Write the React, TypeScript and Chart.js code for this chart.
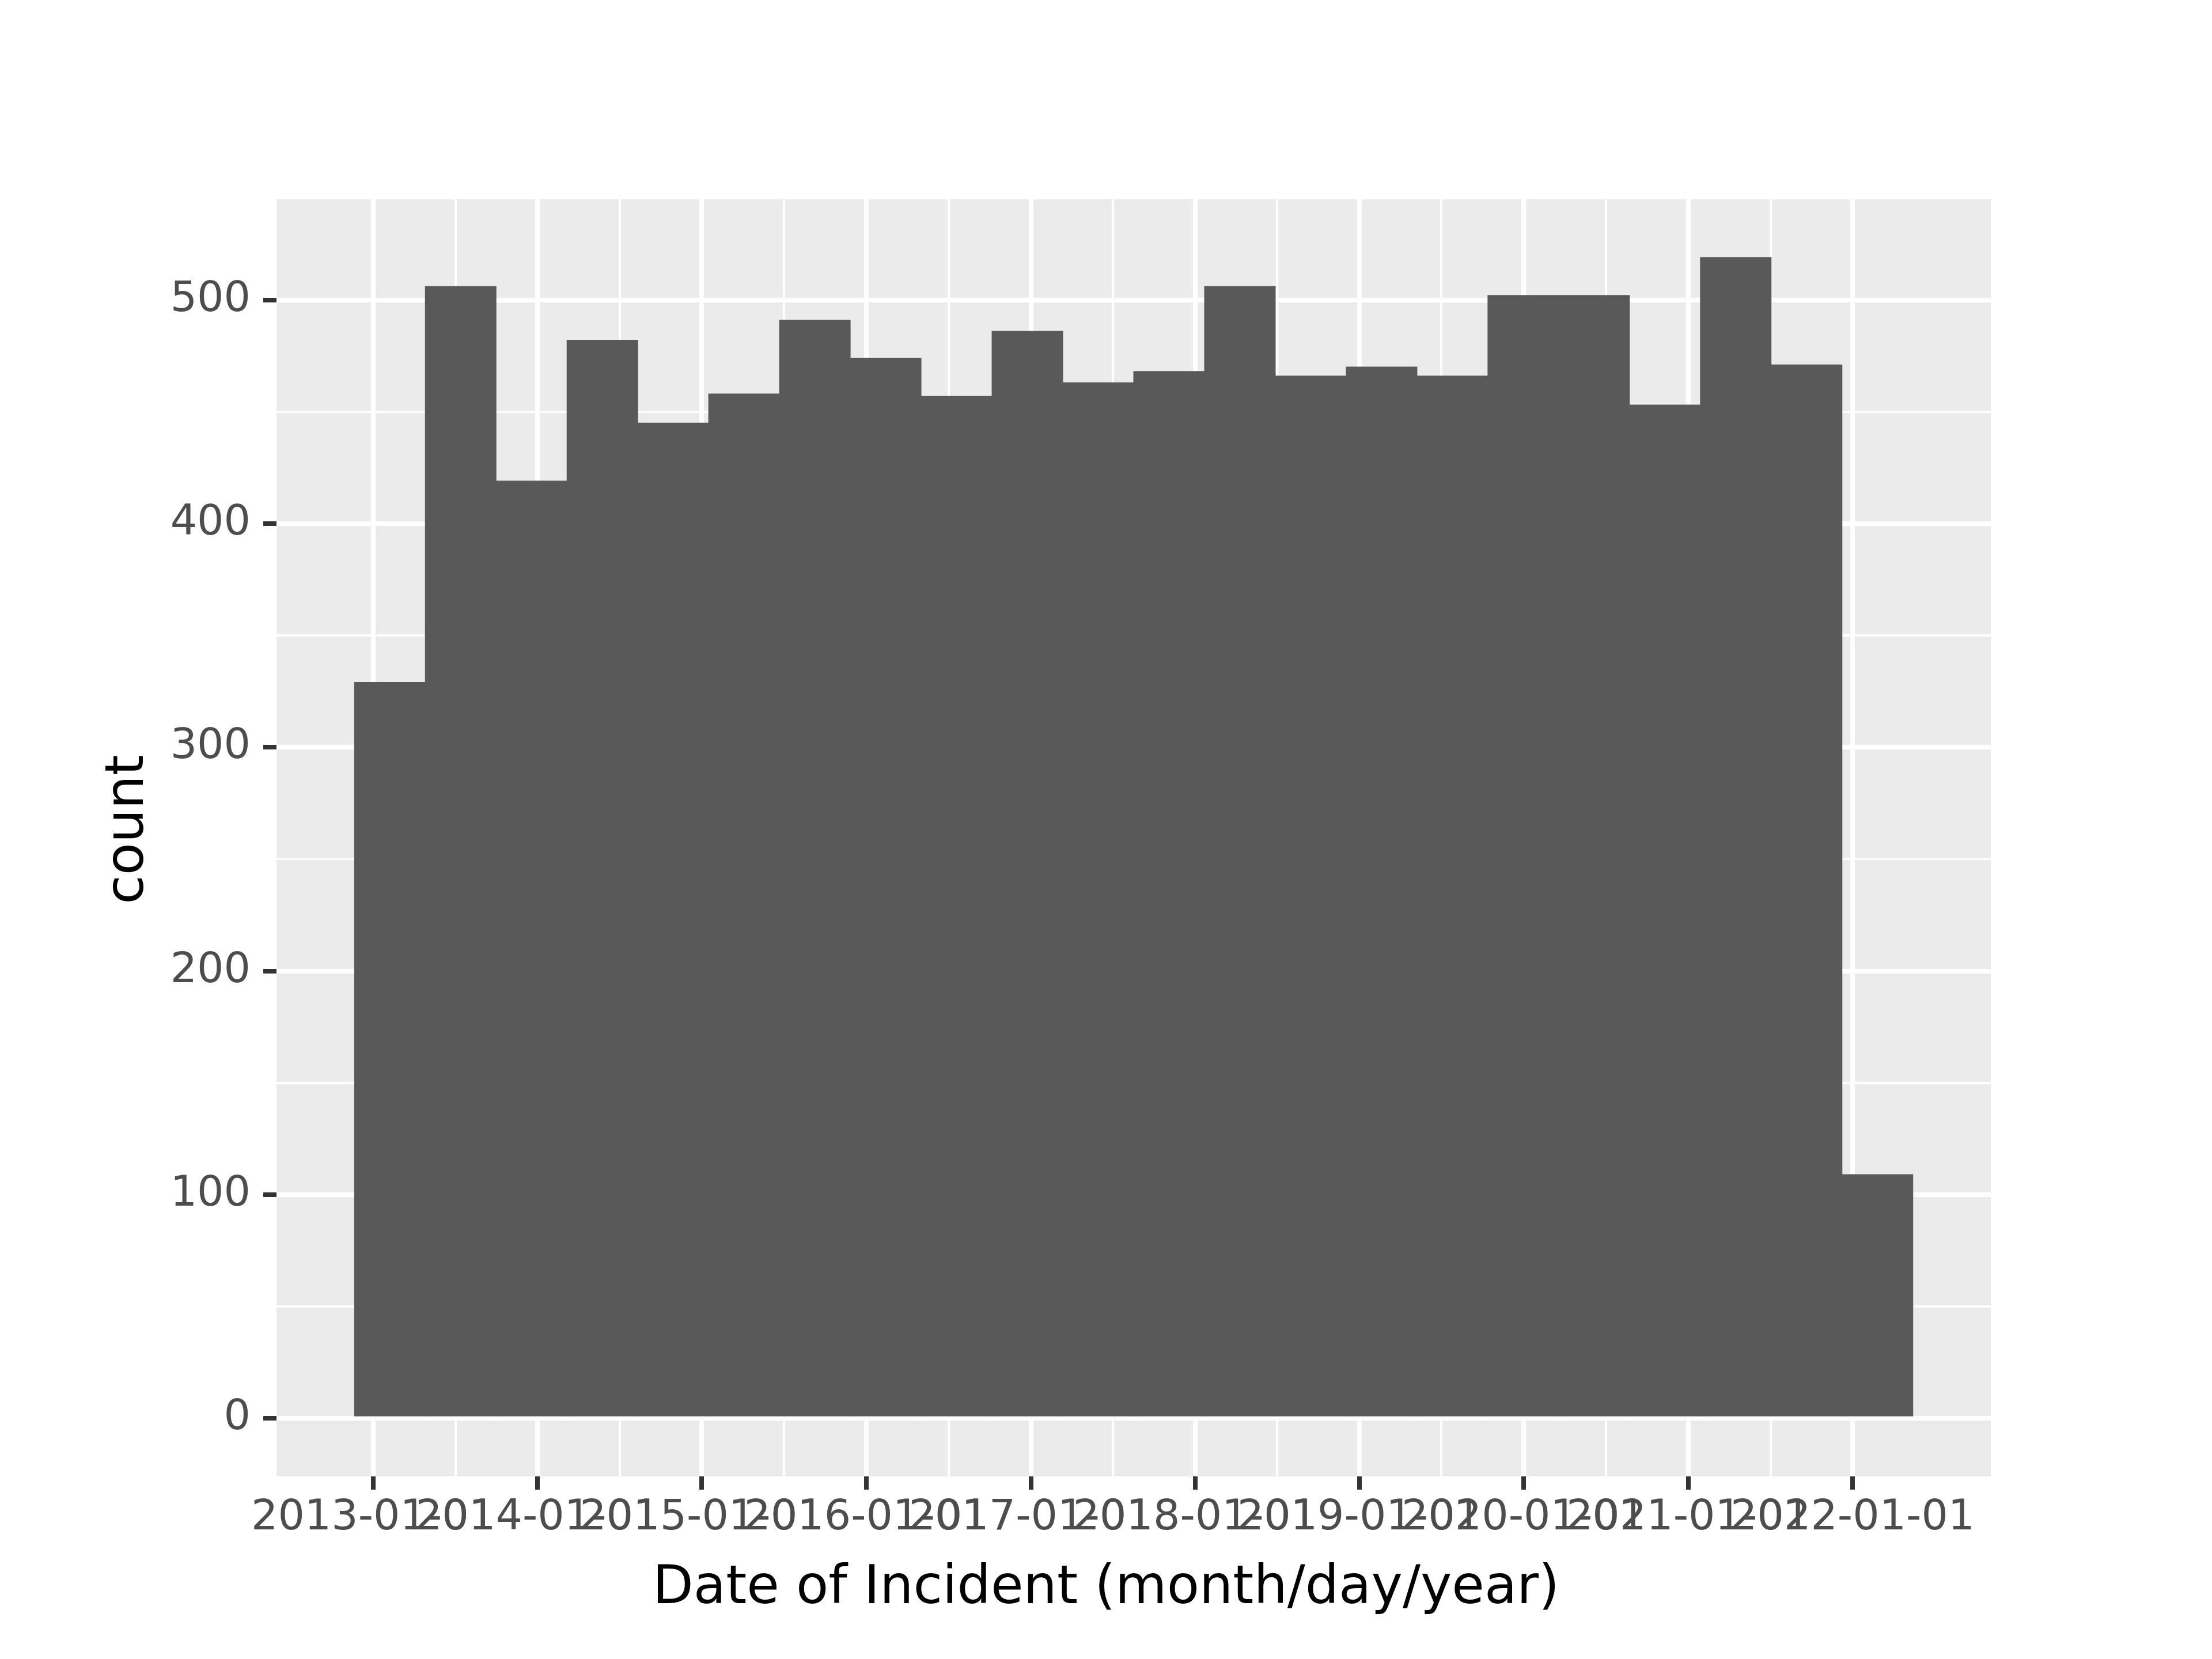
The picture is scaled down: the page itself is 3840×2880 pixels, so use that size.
import React, { useEffect, useRef } from "react";
import { Chart, registerables } from "chart.js";

Chart.register(...registerables);

// ---- data ----
const binStartDate = "2012-11-20"; // left edge of first bin
const binWidthDays = 157.4;
const counts = [329, 506, 419, 482, 445, 458, 491, 474, 457, 486, 463, 468, 506, 466, 470, 466, 502, 502, 453, 519, 471, 109];
const xTickLabels = [
  "2013-01-01", "2014-01-01", "2015-01-01", "2016-01-01", "2017-01-01",
  "2018-01-01", "2019-01-01", "2020-01-01", "2021-01-01", "2022-01-01",
];
const yTicks = [0, 100, 200, 300, 400, 500];
const yMinorTicks = [50, 150, 250, 350, 450];
const xTitle = "Date of Incident (month/day/year)";
const yTitle = "count";

const FONT = "'DejaVu Sans', 'Liberation Sans', sans-serif";
const DAY = 86400000;
const ORIGIN = Date.UTC(2013, 0, 1);
const toDay = (s: string) => (Date.parse(s + "T00:00:00Z") - ORIGIN) / DAY;

export default function App() {
  const ref = useRef<HTMLCanvasElement | null>(null);

  useEffect(() => {
    document.body.style.margin = "0";
    const canvas = ref.current;
    if (!canvas) return;

    const start = toDay(binStartDate);
    const points = counts.map((c, i) => ({ x: start + (i + 0.5) * binWidthDays, y: c }));
    const firstEdge = start;
    const lastEdge = start + counts.length * binWidthDays;
    const xSpan = lastEdge - firstEdge;
    const xMin = firstEdge - 0.05 * xSpan;
    const xMax = lastEdge + 0.05 * xSpan;
    const yMaxVal = Math.max(...counts);
    const yMin = -0.05 * yMaxVal;
    const yMax = yMaxVal * 1.05;

    const majorX = xTickLabels.map(toDay);
    const xLabelMap = new Map<number, string>();
    majorX.forEach((v, i) => xLabelMap.set(v, xTickLabels[i]));
    const minorX: number[] = [];
    for (let i = 0; i < majorX.length - 1; i++) minorX.push((majorX[i] + majorX[i + 1]) / 2);
    const allX = [...majorX, ...minorX].sort((a, b) => a - b);
    const majorXSet = new Set(majorX);

    const majorYSet = new Set(yTicks);
    const allY = [...yTicks, ...yMinorTicks].sort((a, b) => a - b);

    const bgPlugin = {
      id: "panelBg",
      beforeDraw(chart: any) {
        const { ctx, chartArea } = chart;
        ctx.save();
        ctx.fillStyle = "#ffffff";
        ctx.fillRect(0, 0, chart.width, chart.height);
        ctx.fillStyle = "#EBEBEB";
        ctx.fillRect(chartArea.left, chartArea.top, chartArea.right - chartArea.left, chartArea.bottom - chartArea.top);
        ctx.restore();
      },
    };

    const titlePlugin = {
      id: "axisTitles",
      afterDraw(chart: any) {
        const { ctx } = chart;
        ctx.save();
        ctx.fillStyle = "#000000";
        ctx.font = `92px ${FONT}`;
        ctx.textAlign = "center";
        ctx.textBaseline = "alphabetic";
        ctx.fillText(xTitle, chart.width / 2, 2783);
        ctx.translate(248, chart.height / 2);
        ctx.rotate(-Math.PI / 2);
        ctx.fillText(yTitle, 0, 0);
        ctx.restore();
      },
    };

    const chart = new Chart(canvas, {
      type: "bar",
      data: {
        datasets: [
          {
            data: points,
            backgroundColor: "#595959",
            borderWidth: 0,
            barPercentage: 1,
            categoryPercentage: 1,
            inflateAmount: 0.5,
          } as any,
        ],
      },
      options: {
        responsive: false,
        animation: false,
        devicePixelRatio: 1,
        layout: { padding: { left: 0, top: 346, right: 384, bottom: 0 } },
        plugins: { legend: { display: false }, tooltip: { enabled: false } },
        scales: {
          x: {
            type: "linear",
            min: xMin,
            max: xMax,
            offset: false,
            afterBuildTicks: (scale: any) => {
              scale.ticks = allX.map((v) => ({ value: v }));
            },
            afterFit: (scale: any) => {
              scale.height = 317;
            },
            border: { display: false },
            grid: {
              offset: false,
              color: "#ffffff",
              lineWidth: (ctx: any) => (majorXSet.has(ctx.tick?.value) ? 8 : 4),
              drawTicks: true,
              tickLength: 23,
              tickWidth: 8,
              tickColor: (ctx: any) => (majorXSet.has(ctx.tick?.value) ? "#333333" : "rgba(0,0,0,0)"),
            },
            ticks: {
              autoSkip: false,
              maxRotation: 0,
              minRotation: 0,
              padding: 6,
              color: "#4D4D4D",
              font: { family: FONT, size: 73 },
              callback: (value: any) => xLabelMap.get(Number(value)) ?? "",
            },
          },
          y: {
            type: "linear",
            min: yMin,
            max: yMax,
            afterBuildTicks: (scale: any) => {
              scale.ticks = allY.map((v) => ({ value: v }));
            },
            afterFit: (scale: any) => {
              scale.width = 480;
            },
            border: { display: false },
            grid: {
              offset: false,
              color: "#ffffff",
              lineWidth: (ctx: any) => (majorYSet.has(ctx.tick?.value) ? 8 : 4),
              drawTicks: true,
              tickLength: 23,
              tickWidth: 8,
              tickColor: (ctx: any) => (majorYSet.has(ctx.tick?.value) ? "#333333" : "rgba(0,0,0,0)"),
            },
            ticks: {
              padding: 22,
              color: "#4D4D4D",
              font: { family: FONT, size: 73 },
              callback: (value: any) => (majorYSet.has(Number(value)) ? String(value) : ""),
            },
          },
        },
      },
      plugins: [bgPlugin, titlePlugin],
    });

    return () => chart.destroy();
  }, []);

  return <canvas ref={ref} width={3840} height={2880} style={{ display: "block", width: 3840, height: 2880 }} />;
}
